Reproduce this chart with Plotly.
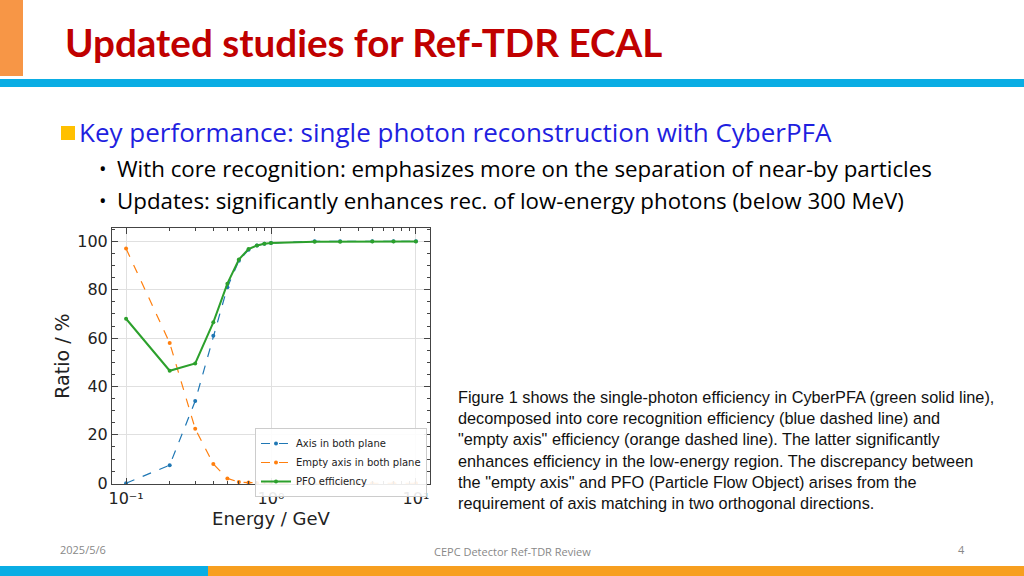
import plotly.graph_objects as go

energy = [0.1,0.2,0.3,0.4,0.5,0.6,0.7,0.8,0.9,1,2,3,5,7,10]
axis_both = [0,7.5,34,61,81,92,96.5,98.3,99,99.3,100,100,100,100,100]
empty_axis = [97,58,22.5,8,2,0.5,0.3,0.1,0,0,0,0,0,0,0]
pfo_eff = [68,46.5,49.5,66.5,82.5,92.5,96.8,98.3,99,99.3,99.8,99.8,99.9,99.9,99.9]
x_ticks = [0.1,1,10]
x_labels = ["10⁻¹","10⁰","10¹"]

L,R,T,B = 112,430,228,484
def px(x): return (x-L)/(R-L)
def py(y): return (B-y)/(B-T)

fig = go.Figure()
fig.add_trace(go.Scatter(x=energy,y=axis_both,name="Axis in both plane",mode="lines+markers",
    line=dict(color="#1f77b4",dash="dash",width=1.2),marker=dict(size=4)))
fig.add_trace(go.Scatter(x=energy,y=empty_axis,name="Empty axis in both plane",mode="lines+markers",
    line=dict(color="#ff7f0e",dash="dash",width=1.2),marker=dict(size=4)))
fig.add_trace(go.Scatter(x=energy,y=pfo_eff,name="PFO efficiency",mode="lines+markers",
    line=dict(color="#2ca02c",width=2),marker=dict(size=4)))

ax = dict(showline=True,linecolor="#444",linewidth=1,mirror="ticks",ticks="inside",ticklen=6,
          gridcolor="#e0e0e0",zeroline=False,tickfont=dict(size=16,color="#222",family="DejaVu Sans"))
fig.update_xaxes(type="log",range=[-1.097,1.097],tickvals=x_ticks,ticktext=x_labels,
    minor=dict(ticks="inside",ticklen=3,tickvals=[0.2,0.3,0.4,0.5,0.6,0.7,0.8,0.9,2,3,4,5,6,7,8,9],showgrid=False),
    title=dict(text="Energy / GeV",font=dict(size=18,family="DejaVu Sans",color="#222"),standoff=2),**ax)
fig.update_yaxes(range=[-0.3,105.5],tickvals=[0,20,40,60,80,100],
    minor=dict(ticks="inside",ticklen=3,dtick=5,showgrid=False),
    title=dict(text="Ratio / %",font=dict(size=19,family="DejaVu Sans",color="#222"),standoff=2),**ax)

shapes = [
    dict(type="rect",xref="paper",yref="paper",x0=px(0),x1=px(23),y0=py(0),y1=py(76),fillcolor="#F79646",line_width=0,layer="below"),
    dict(type="rect",xref="paper",yref="paper",x0=px(0),x1=px(1024),y0=py(79),y1=py(87),fillcolor="#0AADE4",line_width=0),
    dict(type="rect",xref="paper",yref="paper",x0=px(0),x1=px(208),y0=py(566),y1=py(576),fillcolor="#0AADE4",line_width=0),
    dict(type="rect",xref="paper",yref="paper",x0=px(208),x1=px(1024),y0=py(566),y1=py(576),fillcolor="#F79F1F",line_width=0),
    dict(type="rect",xref="paper",yref="paper",x0=px(61),x1=px(75),y0=py(126),y1=py(140),fillcolor="#FFC000",line_width=0),
]
def ann(x,y,text,size,color="#000",anchor="left",bold=False,fam="Open Sans"):
    return dict(xref="paper",yref="paper",x=px(x),y=py(y),text=("<b>%s</b>"%text if bold else text),showarrow=False,
                xanchor=anchor,yanchor="middle",align="left",font=dict(size=size,color=color,family=fam))
annots = [
    ann(63,42,"Updated studies for Ref-TDR ECAL",38.6,"#C00000",bold=True,fam="Lato"),
    ann(77,132,"Key performance: single photon reconstruction with CyberPFA",26,"#1F1FE0"),
    ann(97,168,"•",20),
    ann(115,168,"With core recognition: emphasizes more on the separation of near-by particles",22.3),
    ann(97,200,"•",20),
    ann(115,200,"Updates: significantly enhances rec. of low-energy photons (below 300 MeV)",22.3),
    dict(xref="paper",yref="paper",x=px(456),y=py(386),yanchor="top",xanchor="left",align="left",showarrow=False,
         text="Figure 1 shows the single-photon efficiency in CyberPFA (green solid line),<br>decomposed into core recognition efficiency (blue dashed line) and<br>\"empty axis\" efficiency (orange dashed line). The latter significantly<br>enhances efficiency in the low-energy region. The discrepancy between<br>the \"empty axis\" and PFO (Particle Flow Object) arises from the<br>requirement of axis matching in two orthogonal directions.",
         font=dict(size=16.3,family="Liberation Sans",color="#111")),
    ann(58,549,"2025/5/6",11,"#888"),
    ann(512,551,"CEPC Detector Ref-TDR Review",11,"#888",anchor="center"),
    ann(961,549,"4",11,"#888",anchor="center"),
]
fig.update_layout(width=1024,height=576,margin=dict(l=L,r=1024-R,t=T,b=576-B),
    paper_bgcolor="white",plot_bgcolor="white",shapes=shapes,annotations=annots,
    legend=dict(x=px(255),y=py(428),xanchor="left",yanchor="top",bgcolor="rgba(255,255,255,0.9)",bordercolor="#ccc",borderwidth=1,
        font=dict(size=10,family="DejaVu Sans",color="#222"),tracegroupgap=0,itemwidth=30),
    showlegend=True)
fig.write_html("out.html", config={"displayModeBar": False},
               post_script="document.body.style.margin='0';document.body.style.padding='0';")
